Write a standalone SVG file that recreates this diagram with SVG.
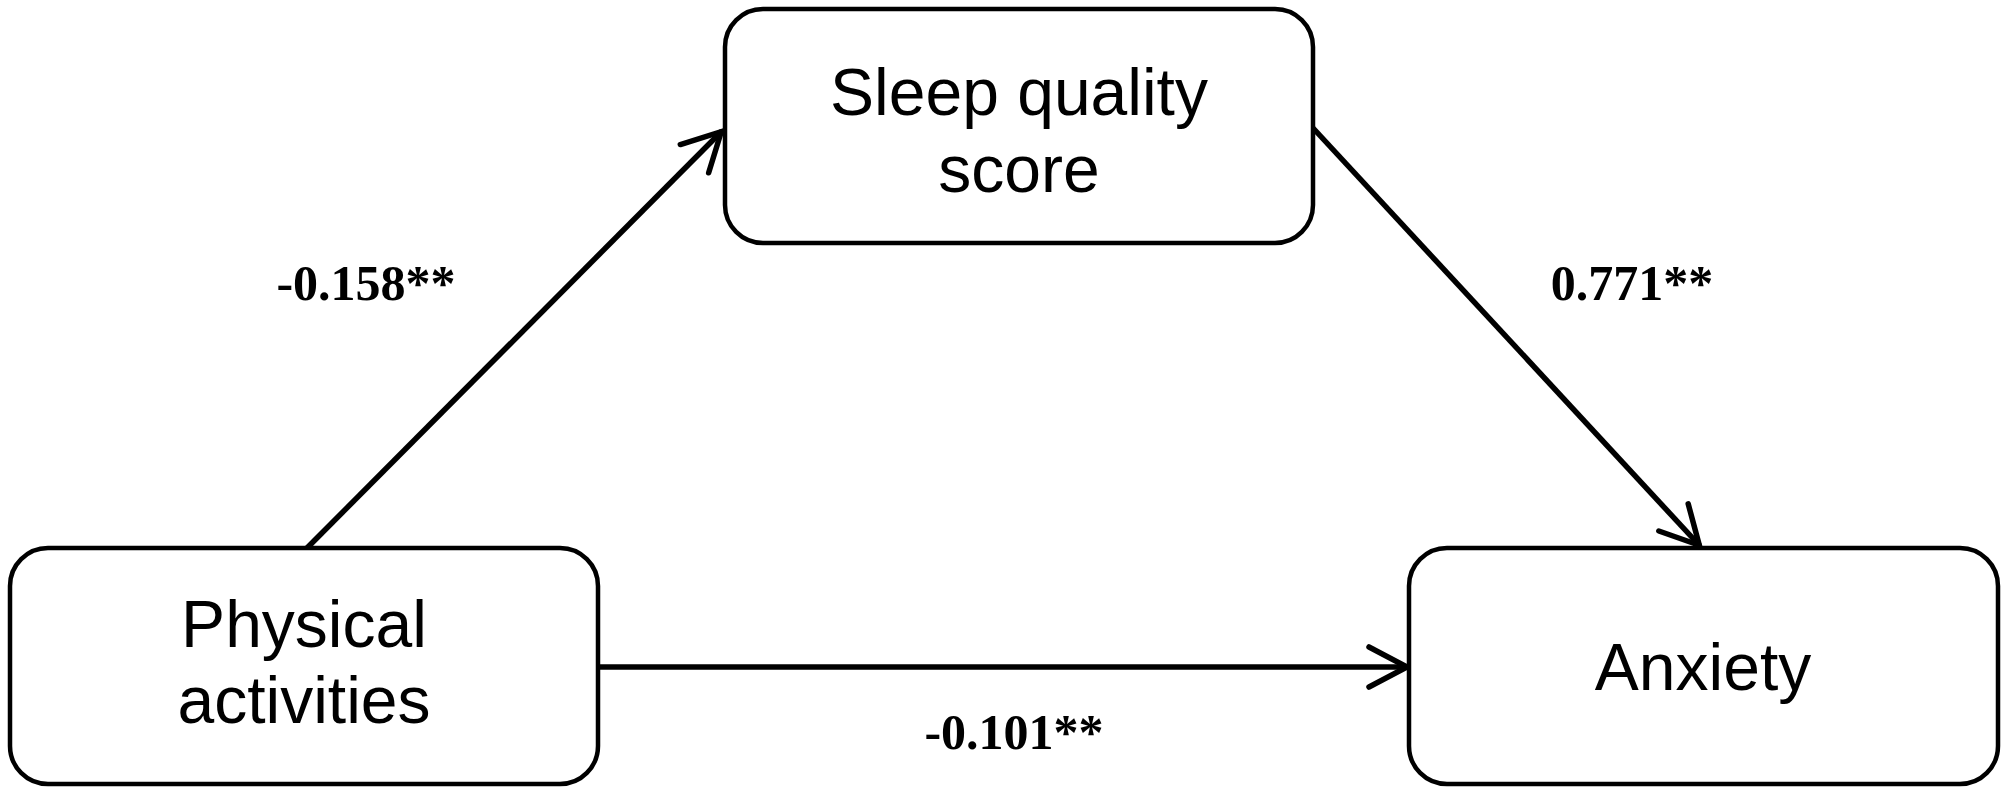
<svg xmlns="http://www.w3.org/2000/svg" width="2008" height="797" viewBox="0 0 2008 797">
<style>
.box{fill:#fff;stroke:#000;stroke-width:4.5}
.nt{font-family:"Liberation Sans",Arial,sans-serif;font-size:66px;fill:#000;text-anchor:middle}
.lb{font-family:"Liberation Serif","Times New Roman",serif;font-size:50px;font-weight:bold;fill:#000;text-anchor:middle}
.edge{stroke:#000;stroke-width:5.5;fill:none}
</style>
<defs>
<marker id="arr" markerUnits="userSpaceOnUse" viewBox="-45 -26 50 52" markerWidth="50" markerHeight="52" refX="1" refY="0" orient="auto">
<path d="M-38,-20 L0,0 L-38,20" fill="none" stroke="#000" stroke-width="5.5" stroke-linecap="round" stroke-linejoin="miter"/>
</marker>
</defs>
<rect width="2008" height="797" fill="#fff"/>
<g id="connectors">
<line class="edge" x1="307" y1="548" x2="722" y2="131" marker-end="url(#arr)"/>
<line class="edge" x1="1313" y1="128" x2="1700" y2="546" marker-end="url(#arr)"/>
<line class="edge" x1="598" y1="667" x2="1408" y2="667" marker-end="url(#arr)"/>
<text class="lb" x="366" y="300">-0.158**</text>
<text class="lb" x="1632" y="300">0.771**</text>
<text class="lb" x="1014" y="749">-0.101**</text>
</g>
<g id="sleep">
<rect class="box" x="725" y="9" width="588" height="234" rx="38"/>
<text class="nt" x="1019" y="115">Sleep quality</text>
<text class="nt" x="1019" y="192">score</text>
</g>
<g id="physical">
<rect class="box" x="10" y="548" width="588" height="236" rx="38"/>
<text class="nt" x="304" y="647">Physical</text>
<text class="nt" x="304" y="723">activities</text>
</g>
<g id="anxiety">
<rect class="box" x="1409" y="548" width="589" height="236" rx="38"/>
<text class="nt" x="1703" y="690">Anxiety</text>
</g>
</svg>
